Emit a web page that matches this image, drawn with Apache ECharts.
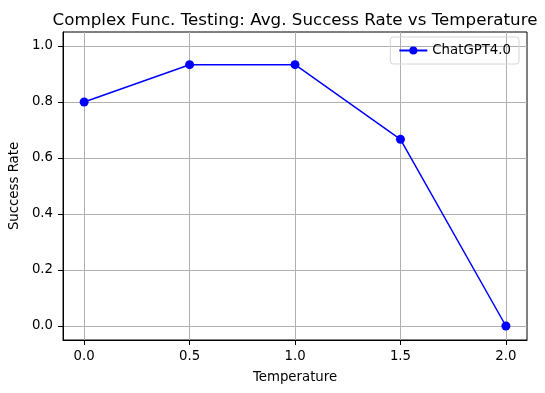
<!DOCTYPE html>
<html>
<head>
<meta charset="utf-8">
<script src="https://cdn.jsdelivr.net/npm/echarts@6/dist/echarts.min.js"></script>
<style>html,body{margin:0;padding:0;background:#fff}#c{width:545px;height:393px}</style>
</head>
<body>
<div id="c"></div>
<script>
const temperatures = [0.0, 0.5, 1.0, 1.5, 2.0];
const successRates = [0.8, 0.9333, 0.9333, 0.6667, 0.0];
const xTicks = [0.0, 0.5, 1.0, 1.5, 2.0];
const yTicks = [0.0, 0.2, 0.4, 0.6, 0.8, 1.0];
const seriesName = 'ChatGPT4.0';

const font = 'DejaVu Sans';
const chart = echarts.init(document.getElementById('c'), null, {renderer: 'canvas'});
chart.setOption({
  animation: false,
  backgroundColor: '#fff',
  title: {
    text: 'Complex Func. Testing: Avg. Success Rate vs Temperature',
    left: 290, textAlign: 'center', top: 7,
    textStyle: {fontFamily: font, fontSize: 16.7, fontWeight: 'normal', color: '#000'}
  },
  legend: {
    right: 26, top: 37,
    itemWidth: 28, itemHeight: 10, itemGap: 6,
    padding: [7, 8, 7, 8],
    borderColor: '#d6d6d6', borderWidth: 1, borderRadius: 3,
    textStyle: {fontFamily: font, fontSize: 13.3, color: '#000'},
    data: [seriesName]
  },
  grid: {
    left: 62, right: 18, top: 32, bottom: 53,
    show: true, borderColor: '#000', borderWidth: 1, containLabel: false
  },
  xAxis: {
    type: 'value', min: -0.1, max: 2.1,
    name: 'Temperature', nameLocation: 'middle', nameGap: 31,
    nameTextStyle: {fontFamily: font, fontSize: 13.3, color: '#000'},
    axisLine: {show: true, onZero: false, lineStyle: {color: '#000', width: 1}},
    axisTick: {show: true, inside: false, customValues: xTicks, length: 5, lineStyle: {color: '#000', width: 1}},
    axisLabel: {customValues: xTicks, fontFamily: font, fontSize: 13.3, color: '#000', margin: 10,
      formatter: v => v.toFixed(1)},
    splitLine: {show: true, lineStyle: {color: '#b0b0b0', width: 1}}
  },
  yAxis: {
    type: 'value', min: -0.05, max: 1.05,
    name: 'Success Rate', nameLocation: 'middle', nameGap: 41, nameRotate: 90,
    nameTextStyle: {fontFamily: font, fontSize: 13.3, color: '#000'},
    axisLine: {show: true, onZero: false, lineStyle: {color: '#000', width: 1}},
    axisTick: {show: true, inside: false, customValues: yTicks, length: 5, lineStyle: {color: '#000', width: 1}},
    axisLabel: {customValues: yTicks, fontFamily: font, fontSize: 13.3, color: '#000', margin: 10,
      formatter: v => v.toFixed(1)},
    splitLine: {show: true, lineStyle: {color: '#b0b0b0', width: 1}}
  },
  series: [{
    name: seriesName, type: 'line',
    data: temperatures.map((t, i) => [t, successRates[i]]),
    symbol: 'circle', symbolSize: 9,
    itemStyle: {color: '#0000ff'},
    lineStyle: {color: '#0000ff', width: 1.5}
  }]
});
</script>
</body>
</html>
